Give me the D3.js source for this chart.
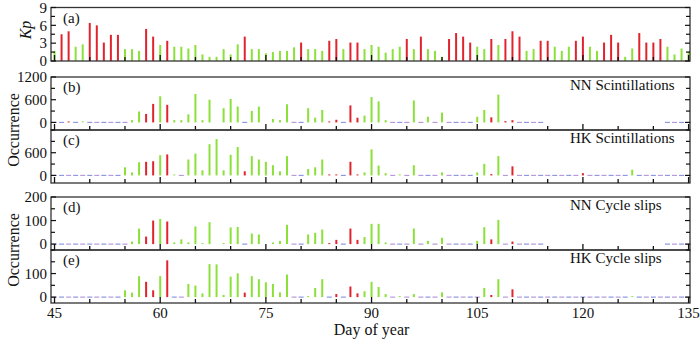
<!DOCTYPE html>
<html>
<head>
<meta charset="utf-8">
<script src="https://cdn.jsdelivr.net/npm/d3@7"></script>
<style>
  body { margin: 0; background: #fff; }
  text { font-family: "Liberation Serif", "Times New Roman", serif; fill: #111; }
</style>
</head>
<body>
<div id="chart"></div>
<script>
// Day of year 45..135, one value per day (null = no data)
const days = d3.range(45, 136);

const kp = [
  1.7, 4.5, 5.0, 2.4, 2.8, 6.4, 6.0, 3.1, 4.4, 4.4,
  2.0, 2.0, 1.7, 5.4, 4.1, 2.7, 3.4, 2.4, 2.4, 2.1,
  2.7, 1.1, 0.7, 0.7, 2.0, 1.1, 2.8, 4.1, 2.0, 2.0,
  1.3, 1.5, 1.7, 1.7, 2.3, 3.1, 2.0, 2.0, 1.7, 3.4,
  3.7, 2.0, 3.1, 3.1, 2.0, 2.7, 2.4, 1.4, 2.0, 2.4,
  3.7, 2.0, 4.1, 2.0, 1.7, 0.7, 3.7, 4.7, 4.1, 3.1,
  2.4, 2.0, 3.7, 2.7, 3.7, 5.0, 4.1, 1.7, 2.0, 3.4,
  3.4, 2.4, 1.7, 2.4, 3.4, 4.1, 2.4, 1.7, 3.1, 4.4,
  3.1, 0.7, 2.1, 4.7, 3.1, 3.1, 3.7, 2.4, 1.1, 2.1,
  1.6
];

const nnScint = [
  0, 0, 15, 0, 10, 0, 0, 0, 0, 0,
  0, 60, 290, 225, 490, 690, 465, 60, 60, 215,
  750, 60, 600, null, 375, 620, 420, 0, 305, 420,
  null, 90, 60, 480, 0, 0, 375, 125, 330, 20,
  70, 0, 450, 125, 180, 670, 555, 60, 0, 0,
  0, 580, 0, 150, 0, 260, 0, 0, 0, 0,
  150, 330, 135, 735, 35, 60, 0, 0, 0, 0,
  null, null, null, null, null, null, null, null, null, null,
  null, null, null, null, null, null, null, 0, 0, 0,
  0
];

const hkScint = [
  0, 0, 0, 0, 0, 0, 0, 0, 0, 0,
  215, 80, 350, 360, 375, 535, 555, 10, 0, 420,
  575, 135, 825, 960, 135, 545, 750, 110, 510, 420,
  360, 270, 110, 510, 0, 0, 170, 215, 420, 15,
  20, 0, 360, 25, 80, 690, 260, 60, 0, 10,
  0, 270, 0, 0, 0, 80, 0, 0, 0, 0,
  80, 305, 35, 510, 0, 240, 0, 0, 0, 0,
  0, 0, 0, 0, 0, 60, 0, 0, 0, 0,
  0, 0, 150, 0, 0, 0, 0, 0, 0, 0,
  0
];

const nnSlips = [
  0, 0, 0, 0, 0, 0, 0, 0, 0, 0,
  0, 11, 66, 32, 100, 107, 96, 7, 20, 7,
  75, 3, 93, null, 4, 71, 73, 0, 45, 41,
  null, 7, 14, 82, 0, 0, 41, 48, 62, 3,
  18, 0, 66, 18, 30, 86, 86, 7, 0, 0,
  0, 66, 0, 14, 0, 27, 0, 0, 0, 0,
  14, 72, 20, 103, 0, 11, 0, 0, 0, 0,
  null, null, null, null, null, null, null, null, null, null,
  null, null, null, null, null, null, null, 0, 0, 0,
  0
];

const hkSlips = [
  0, 0, 0, 0, 0, 0, 0, 0, 0, 0,
  29, 19, 89, 65, 29, 89, 156, 0, 0, 56,
  49, 16, 140, 139, 9, 87, 101, 19, 89, 76,
  63, 56, 20, 96, 0, 0, 2, 39, 76, 0,
  13, 0, 45, 16, 25, 65, 43, 13, 0, 3,
  0, 13, 0, 0, 0, 20, 0, 0, 0, 0,
  0, 39, 9, 76, 0, 33, 0, 0, 0, 0,
  0, 0, 0, 0, 0, 0, 0, 0, 0, 0,
  0, 0, 3, 0, 0, 0, 0, 0, 0, 0,
  0
];

const xMajor = [45, 60, 75, 90, 105, 120, 135];
const xMinor = d3.range(45, 136, 5);

const panels = [
  { values: kp, top: 7.5, bottom: 61, domain: [0, 9], step: 1.5, labels: [0, 3, 6, 9], letter: "(a)", title: null },
  { values: nnScint, top: 77, bottom: 130, domain: [-200, 1200], step: 300, labels: [0, 600, 1200], letter: "(b)", title: "NN Scintillations" },
  { values: hkScint, top: 130, bottom: 183, domain: [-200, 1200], step: 300, labels: [0, 600], letter: "(c)", title: "HK Scintillations" },
  { values: nnSlips, top: 197, bottom: 250, domain: [-25, 200], step: 50, labels: [0, 100, 200], letter: "(d)", title: "NN Cycle slips" },
  { values: hkSlips, top: 250, bottom: 303, domain: [-25, 200], step: 50, labels: [0, 100], letter: "(e)", title: "HK Cycle slips" }
];

const width = 700, height = 341;
const left = 51, right = 690;
const red = "#e1232e", green = "#8be03a";
const dashColors = ["#8c98e2", "#b89ada"];

const svg = d3.select("#chart").append("svg")
  .attr("width", width)
  .attr("height", height);

const x = d3.scaleLinear().domain([44.5, 135.2]).range([left, right]);

// storm days (Kp >= 3) are red
const colorOf = i => kp[i] >= 3 ? red : green;

panels.forEach(p => {
  const y = d3.scaleLinear().domain(p.domain).range([p.bottom, p.top]);
  const g = svg.append("g");

  // zero days: a short dash on the baseline
  if (p.values !== kp) {
    g.selectAll("line.zero")
      .data(days.map((d, i) => ({ d, v: p.values[i] })).filter(e => e.v === 0))
      .join("line")
      .attr("class", "zero")
      .attr("x1", e => x(e.d) - 2.5)
      .attr("x2", e => x(e.d) + 2.5)
      .attr("y1", y(0)).attr("y2", y(0))
      .attr("stroke", e => dashColors[e.d % 2])
      .attr("stroke-width", 1.2);
  }

  // bars
  g.selectAll("line.bar")
    .data(days.map((d, i) => ({ d, v: p.values[i], i })).filter(e => e.v != null && e.v > 0))
    .join("line")
    .attr("class", "bar")
    .attr("x1", e => x(e.d)).attr("x2", e => x(e.d))
    .attr("y1", y(0))
    .attr("y2", e => Math.min(y(0) - 1, y(e.v)))
    .attr("stroke", e => colorOf(e.i))
    .attr("stroke-width", 2);

  // frame
  g.append("rect")
    .attr("x", left).attr("y", p.top)
    .attr("width", right - left).attr("height", p.bottom - p.top)
    .attr("fill", "none")
    .attr("stroke", "#333")
    .attr("stroke-width", 1.3);

  // x ticks (inward from bottom)
  xMinor.forEach(t => {
    const len = xMajor.includes(t) ? 6 : 4;
    g.append("line")
      .attr("x1", x(t)).attr("x2", x(t))
      .attr("y1", p.bottom).attr("y2", p.bottom - len)
      .attr("stroke", "#111").attr("stroke-width", 1.3);
  });

  // y ticks (inward, both sides)
  const first = Math.ceil(p.domain[0] / p.step) * p.step;
  d3.range(first, p.domain[1] + 0.001, p.step).forEach(t => {
    const len = p.labels.includes(t) ? 5 : 4;
    [[left, len], [right, -len]].forEach(([x0, dx]) => {
      g.append("line")
        .attr("x1", x0).attr("x2", x0 + dx)
        .attr("y1", y(t)).attr("y2", y(t))
        .attr("stroke", "#111").attr("stroke-width", 1.2);
    });
  });

  p.labels.forEach(t => {
    g.append("text")
      .attr("x", left - 4)
      .attr("y", y(t))
      .attr("dy", "0.35em")
      .attr("text-anchor", "end")
      .attr("font-size", 15)
      .text(t);
  });

  g.append("text")
    .attr("x", 63)
    .attr("y", p.top + 15)
    .attr("font-size", 15)
    .text(p.letter);

  if (p.title) {
    g.append("text")
      .attr("x", 570)
      .attr("y", p.top + 13)
      .attr("font-size", 15)
      .text(p.title);
  }
});

// x tick labels
xMajor.forEach(t => {
  svg.append("text")
    .attr("x", x(t))
    .attr("y", 318)
    .attr("text-anchor", "middle")
    .attr("font-size", 15)
    .text(t);
});

svg.append("text")
  .attr("x", x(90))
  .attr("y", 335)
  .attr("text-anchor", "middle")
  .attr("font-size", 16)
  .text("Day of year");

// y axis titles
svg.append("text")
  .attr("transform", "translate(31,30) rotate(-90)")
  .attr("text-anchor", "middle")
  .attr("font-size", 16)
  .attr("font-style", "italic")
  .text("Kp");

[130, 250].forEach(cy => {
  svg.append("text")
    .attr("transform", `translate(19,${cy}) rotate(-90)`)
    .attr("text-anchor", "middle")
    .attr("font-size", 16)
    .text("Occurrence");
});
</script>
</body>
</html>
